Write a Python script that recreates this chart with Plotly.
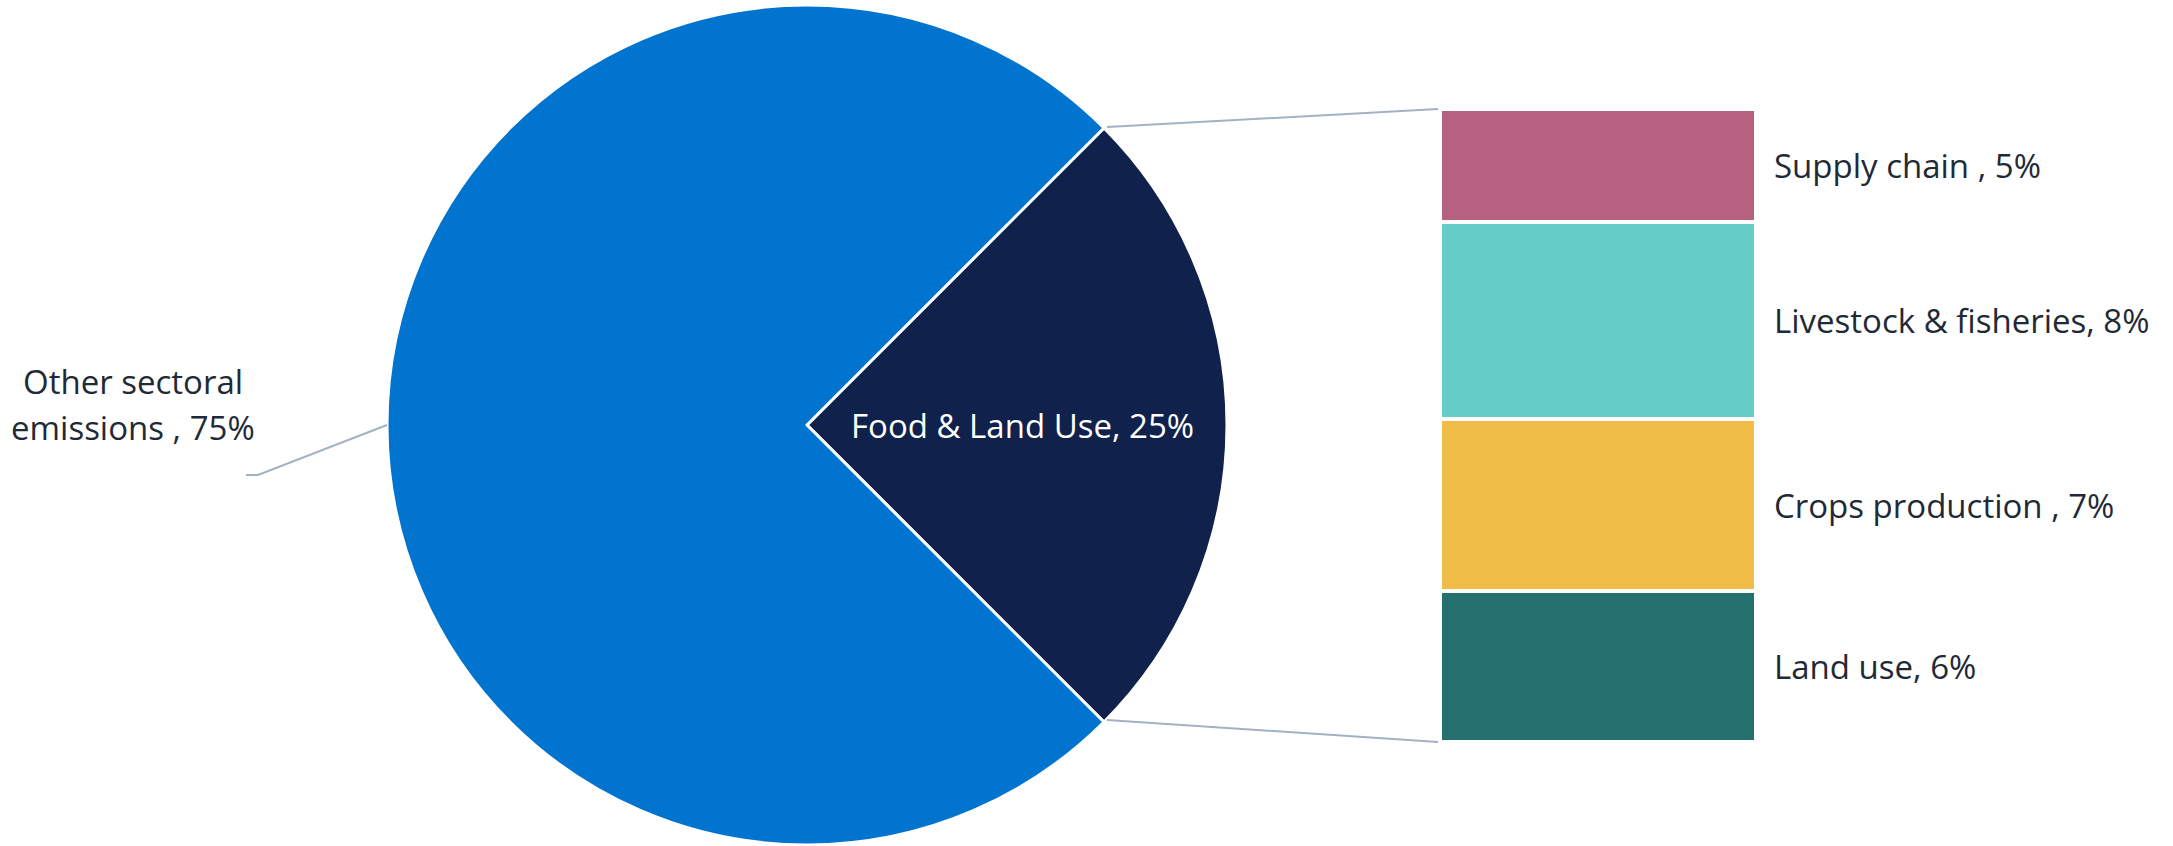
import math
import plotly.graph_objects as go

# ---------------- data ----------------
pie_labels = ["Food & Land Use", "Other sectoral emissions"]
pie_values = [25, 75]
pie_texts = ["Food & Land Use, 25%", "Other sectoral<br>emissions , 75%"]

bar_labels = ["Land use", "Crops production", "Livestock & fisheries", "Supply chain"]
bar_values = [5.95, 6.8, 7.8, 4.45]
bar_texts = ["Land use, 6%", "Crops production , 7%", "Livestock & fisheries, 8%", "Supply chain , 5%"]

# ---------------- style ----------------
W, H = 2173, 846
FONT = "Open Sans"
FS = 33
TXT = "#1f2a36"
pie_colors = ["#10214b", "#0174cf"]
bar_colors = ["#24706f", "#f0bd48", "#66cdc9", "#b5617f"]
LINE = "#a3b2c2"

cx, cy, R = 807, 425, 420          # pie centre / radius in pixels
bx0, bx1, by_top, by_bot = 1440, 1756, 109, 742   # bar box in pixels


def px(x):
    return x / W


def py(y):
    return 1 - y / H


fig = go.Figure()

fig.add_trace(go.Pie(
    labels=pie_labels, values=pie_values,
    marker=dict(colors=pie_colors, line=dict(color="white", width=3)),
    sort=False, direction="clockwise", rotation=45,
    textinfo="none", showlegend=False,
    domain=dict(x=[px(cx - R), px(cx + R)], y=[py(cy + R), py(cy - R)]),
))

for lab, val, col in zip(bar_labels, bar_values, bar_colors):
    fig.add_trace(go.Bar(
        x=[0], y=[val], name=lab, width=1,
        marker=dict(color=col, line=dict(color="white", width=4)),
        showlegend=False, xaxis="x", yaxis="y",
    ))

total = sum(bar_values)
annotations = []
cum = 0
for val, t in zip(bar_values, bar_texts):
    mid = cum + val / 2
    cum += val
    annotations.append(dict(
        x=px(1772), xref="paper", y=mid, yref="y", text=t, showarrow=False,
        xanchor="left", yanchor="middle", font=dict(family=FONT, size=FS, color=TXT),
    ))

annotations.append(dict(
    x=px(1022), y=py(425), xref="paper", yref="paper", text=pie_texts[0], showarrow=False,
    xanchor="center", yanchor="middle", font=dict(family=FONT, size=FS, color="white"),
))
for i, line in enumerate(pie_texts[1].split("<br>")):
    annotations.append(dict(
        x=px(133), y=py([381, 427][i]), xref="paper", yref="paper", text=line, showarrow=False,
        xanchor="center", yanchor="middle", font=dict(family=FONT, size=FS, color=TXT),
    ))

a = math.radians(45)
p_top = (cx + R * math.cos(a) + 3, cy - R * math.sin(a) - 1)
p_bot = (cx + R * math.cos(a) + 3, cy + R * math.sin(a) - 2)
shapes = [
    dict(type="line", xref="paper", yref="paper", x0=px(p_top[0]), y0=py(p_top[1]),
         x1=px(1438), y1=py(109), line=dict(color=LINE, width=2)),
    dict(type="line", xref="paper", yref="paper", x0=px(p_bot[0]), y0=py(p_bot[1]),
         x1=px(1438), y1=py(742), line=dict(color=LINE, width=2)),
    dict(type="path", xref="paper", yref="paper",
         path=f"M {px(cx - R)},{py(cy)} L {px(258)},{py(475)} L {px(246)},{py(475)}",
         line=dict(color=LINE, width=2)),
]

fig.update_layout(
    width=W, height=H,
    margin=dict(l=0, r=0, t=0, b=0),
    paper_bgcolor="white", plot_bgcolor="white",
    barmode="stack", bargap=0,
    xaxis=dict(domain=[px(bx0), px(bx1)], range=[-0.5, 0.5], visible=False, fixedrange=True),
    yaxis=dict(domain=[py(by_bot), py(by_top)], range=[0, total], visible=False, fixedrange=True),
    annotations=annotations, shapes=shapes,
)

fig.write_html(
    "out.html",
    config={"displayModeBar": False},
    post_script="document.body.style.margin='0';document.body.style.overflow='hidden';",
)
